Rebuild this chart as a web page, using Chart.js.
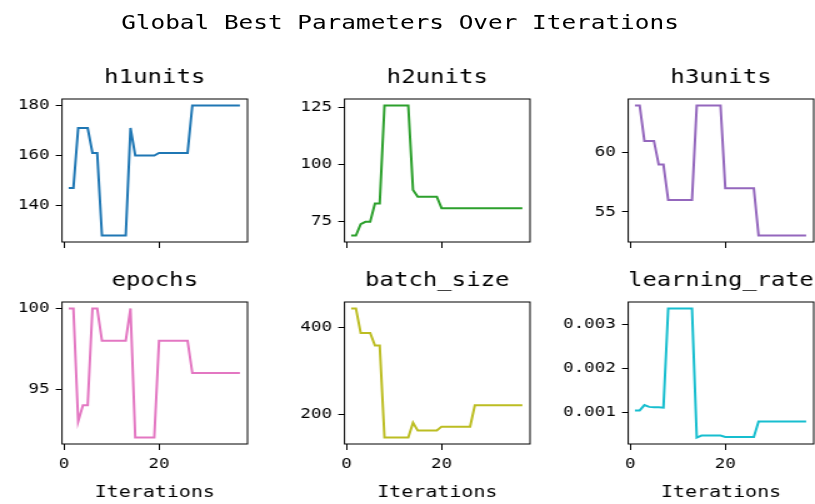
<!DOCTYPE html>
<html>
<head>
<meta charset="utf-8">
<script src="https://cdn.jsdelivr.net/npm/chart.js@4.4.1/dist/chart.umd.min.js"></script>
<style>
  html, body { margin: 0; padding: 0; background: #fff; overflow: hidden; width: 815px; height: 504px; }
  #fig { position: absolute; left: 0; top: 0; width: 652px; height: 504px; transform-origin: 0 0; overflow: visible; }
  #fig canvas { position: absolute; }
  #suptitle { position: absolute; left: 0; top: 11px; text-align: center; white-space: nowrap;
              font-family: 'DejaVu Sans Mono', monospace; color: #000; line-height: 24px; }
</style>
</head>
<body>
<div id="fig"><div id="suptitle">Global Best Parameters Over Iterations</div></div>
<script>
// Global-best hyperparameters tracked per search iteration
const iterations = [1, 2, 3, 4, 5, 6, 7, 8, 9, 10, 11, 12, 13, 14, 15, 16, 17, 18, 19, 20,
                    21, 22, 23, 24, 25, 26, 27, 28, 29, 30, 31, 32, 33, 34, 35, 36, 37];
const h1units = [147, 147, 171, 171, 171, 161, 161, 128, 128, 128, 128, 128, 128, 171, 160, 160, 160, 160, 160, 161,
                 161, 161, 161, 161, 161, 161, 180, 180, 180, 180, 180, 180, 180, 180, 180, 180, 180];
const h2units = [69, 69, 74, 75, 75, 83, 83, 126, 126, 126, 126, 126, 126, 89, 86, 86, 86, 86, 86, 81,
                 81, 81, 81, 81, 81, 81, 81, 81, 81, 81, 81, 81, 81, 81, 81, 81, 81];
const h3units = [64, 64, 61, 61, 61, 59, 59, 56, 56, 56, 56, 56, 56, 64, 64, 64, 64, 64, 64, 57,
                 57, 57, 57, 57, 57, 57, 53, 53, 53, 53, 53, 53, 53, 53, 53, 53, 53];
const epochs = [100, 100, 93, 94, 94, 100, 100, 98, 98, 98, 98, 98, 98, 100, 92, 92, 92, 92, 92, 98,
                98, 98, 98, 98, 98, 98, 96, 96, 96, 96, 96, 96, 96, 96, 96, 96, 96];
const batchSize = [443, 443, 387, 387, 387, 358, 358, 147, 147, 147, 147, 147, 147, 181, 163, 163, 163, 163, 163, 172,
                   172, 172, 172, 172, 172, 172, 221, 221, 221, 221, 221, 221, 221, 221, 221, 221, 221];
const learningRate = [0.00104, 0.00104, 0.00116, 0.00112, 0.00111, 0.00111, 0.0011,
                      0.003366, 0.003366, 0.003366, 0.003366, 0.003366, 0.003366,
                      0.00042, 0.000466, 0.000466, 0.000466, 0.000466, 0.000466,
                      0.000435, 0.000435, 0.000435, 0.000435, 0.000435, 0.000435, 0.000435,
                      0.000786, 0.000786, 0.000786, 0.000786, 0.000786, 0.000786, 0.000786, 0.000786, 0.000786, 0.000786, 0.000786];

// Tick labels
const iterTicks = [0, 20];
const h1Ticks = [140, 160, 180];
const h2Ticks = [75, 100, 125];
const h3Ticks = [55, 60];
const epochTicks = [95, 100];
const batchTicks = [200, 400];
const lrTicks = [0.001, 0.002, 0.003];

const panelNames = ['h1units', 'h2units', 'h3units', 'epochs', 'batch_size', 'learning_rate'];
const panelSeries = [h1units, h2units, h3units, epochs, batchSize, learningRate];
const panelTicks = [h1Ticks, h2Ticks, h3Ticks, epochTicks, batchTicks, lrTicks];
const panelColors = ['#1f77b4', '#2ca02c', '#9467bd', '#e377c2', '#bcbd22', '#17becf'];

// Shared iteration axis limits
const X_MIN = -0.4;
const X_MAX = 38.6;

// Figure geometry (screen pixels); the drawing is stretched horizontally by SX
const SX = 1.25;
const FONT = "'DejaVu Sans Mono', monospace";
const SUPTITLE_SIZE = 19.5;
const TITLE_SIZE = 19.2;
const TICK_SIZE = 14;
const LABEL_SIZE = 16;
const colLeft = [62, 344.5, 628];
const rowTop = [99, 302];
const plotW = 185.5;
const plotH = [143, 142];
const YW = 92;   // room on each side of a plot (tick labels on the left)
const TH = 40;   // room above each plot for its title

const fig = document.getElementById('fig');
fig.style.transform = 'scaleX(' + SX + ')';
const sup = document.getElementById('suptitle');
sup.style.fontSize = SUPTITLE_SIZE + 'px';
sup.style.width = (800 / SX) + 'px';

function paddedRange(values) {
  const lo = Math.min(...values), hi = Math.max(...values);
  const m = (hi - lo) * 0.05;
  return [lo - m, hi + m];
}

// Closed box around the plotting area
const frame = {
  id: 'frame',
  afterDatasetsDraw(chart) {
    const { ctx, chartArea: a } = chart;
    ctx.save();
    ctx.strokeStyle = '#000';
    ctx.lineWidth = 1;
    ctx.strokeRect(a.left, a.top, a.right - a.left, a.bottom - a.top);
    ctx.restore();
  }
};

panelNames.forEach((name, k) => {
  const row = Math.floor(k / 3), col = k % 3;
  const bottomRow = row === 1;
  const XH = bottomRow ? 61 : 14;
  const values = panelSeries[k];
  const yRange = paddedRange(values);

  const cv = document.createElement('canvas');
  cv.width = Math.round((2 * YW + plotW) / SX);
  cv.height = TH + plotH[row] + XH;
  cv.style.left = ((colLeft[col] - YW) / SX) + 'px';
  cv.style.top = (rowTop[row] - TH) + 'px';
  fig.appendChild(cv);

  const tickFont = { family: FONT, size: TICK_SIZE, lineHeight: 1.2 };
  const labelFont = { family: FONT, size: LABEL_SIZE, lineHeight: 1.2 };

  new Chart(cv, {
    type: 'line',
    data: {
      datasets: [{
        data: values.map((v, i) => ({ x: iterations[i], y: v })),
        borderColor: panelColors[k],
        borderWidth: 2,
        pointRadius: 0,
        tension: 0,
        fill: false
      }]
    },
    options: {
      responsive: false,
      animation: false,
      devicePixelRatio: 1,
      layout: { padding: { top: 0, left: 0, right: cv.width - (YW + plotW) / SX, bottom: 0 } },
      plugins: {
        legend: { display: false },
        tooltip: { enabled: false },
        title: {
          display: true,
          fullSize: false,   // centre the title over the plot area only
          text: name,
          color: '#000',
          font: { family: FONT, size: TITLE_SIZE, weight: 'normal', lineHeight: 1.2 },
          padding: { top: TH - TITLE_SIZE * 1.2 - 9, bottom: 9 }
        }
      },
      scales: {
        x: {
          type: 'linear',
          min: X_MIN,
          max: X_MAX,
          afterBuildTicks: s => { s.ticks = iterTicks.map(v => ({ value: v })); },
          afterFit: s => { s.height = XH; },
          grid: { display: true, drawOnChartArea: false, drawTicks: true, tickLength: 6, tickWidth: 1, tickColor: '#000' },
          border: { display: false },
          ticks: {
            color: '#000', font: tickFont, padding: 6, maxRotation: 0, autoSkip: false,
            callback: v => bottomRow ? String(v) : ''
          },
          title: {
            display: bottomRow, text: 'Iterations', color: '#000',
            font: labelFont, padding: { top: 0, bottom: 3 }
          }
        },
        y: {
          type: 'linear',
          min: yRange[0],
          max: yRange[1],
          afterBuildTicks: s => { s.ticks = panelTicks[k].map(v => ({ value: v })); },
          afterFit: s => { s.width = YW / SX; },
          grid: { display: true, drawOnChartArea: false, drawTicks: true, tickLength: 5, tickWidth: 1, tickColor: '#000' },
          border: { display: false },
          ticks: { color: '#000', font: tickFont, padding: 5, callback: v => String(v) }
        }
      }
    },
    plugins: [frame]
  });
});
</script>
</body>
</html>
